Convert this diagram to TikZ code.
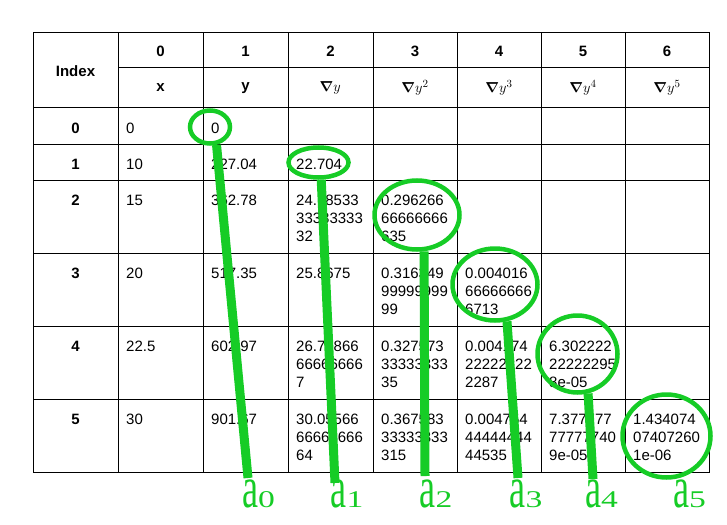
\documentclass[tikz,border=0pt]{standalone}
\usepackage{fontspec}
\setmainfont{Liberation Sans}
\newfontfamily\labfont{Liberation Serif}
\usepackage{graphicx}
\usetikzlibrary{shapes.geometric}
\definecolor{ringgreen}{RGB}{22,204,38}
\newcommand\alab[1]{\scalebox{0.95}[1.55]{\fontsize{38}{38}\selectfont a}\scalebox{1.4}[1]{\fontsize{24}{24}\selectfont #1}}
\newcommand\grad[1]{{\boldmath$\nabla$}$y^{#1}$}

\begin{document}
\begin{tikzpicture}[x=1pt, y=-1pt,
	grid/.style={line width=1pt},
	head/.style={font=\fontsize{15}{18}\selectfont\bfseries, inner sep=0},
	cell/.style={font=\fontsize{15}{18.3}\selectfont, align=left, anchor=north west, inner sep=0},
	ring/.style={draw=ringgreen, line width=4.5pt, ellipse, inner sep=0},
	stick/.style={draw=ringgreen, line width=9pt},
	alabel/.style={text=ringgreen, anchor=base west, inner sep=0, font=\labfont}]
	\useasboundingbox (0,0) rectangle (727,524);
	
	\draw[grid] (33,33) rectangle (709,472);
	\draw[grid] (118,68) -- (709,68);
	\foreach \y in {108,144,180,253,326,399} \draw[grid] (33,\y) -- (709,\y);
	\foreach \x in {118,203,288,373,457,541,625} \draw[grid] (\x,33) -- (\x,472);
	
	\node[head] (index) at (75.5,71) {Index};
	\foreach \n/\x in {0/160.5,1/245.5,2/330.5,3/415,4/499,5/583,6/667}
		\node[head] (h\n) at (\x,51) {\n};
	\node[head] (hx) at (160.5,88) {x};
	\node[head] (hy) at (245.5,88) {y};
	\node[head] (hd1) at (330.5,88) {\grad{}};
	\node[head] (hd2) at (415,88) {\grad{2}};
	\node[head] (hd3) at (499,88) {\grad{3}};
	\node[head] (hd4) at (583,88) {\grad{4}};
	\node[head] (hd5) at (667,88) {\grad{5}};
	\foreach \n/\y in {0/133,1/169,2/205,3/278,4/351,5/424}
		\node[head, anchor=base] (i\n) at (75.5,\y) {\n};
	
	\node[cell] (x0) at (126,122.5) {0};
	\node[cell] (y0) at (211,122.5) {0};
	\node[cell] (x1) at (126,158.5) {10};
	\node[cell] (y1) at (211,158.5) {227.04};
	\node[cell] (d1r1) at (296,158.5) {22.704};
	\node[cell] (x2) at (126,194.5) {15};
	\node[cell] (y2) at (211,194.5) {362.78};
	\node[cell] (d1r2) at (296,194.5) {24.18533\\33333333\\32};
	\node[cell] (d2r2) at (381,194.5) {0.296266\\66666666\\635};
	\node[cell] (x3) at (126,267.5) {20};
	\node[cell] (y3) at (211,267.5) {517.35};
	\node[cell] (d1r3) at (296,267.5) {25.8675};
	\node[cell] (d2r3) at (381,267.5) {0.316349\\99999999\\99};
	\node[cell] (d3r3) at (465,267.5) {0.004016\\66666666\\6713};
	\node[cell] (x4) at (126,340.5) {22.5};
	\node[cell] (y4) at (211,340.5) {602.97};
	\node[cell] (d1r4) at (296,340.5) {26.79866\\66666666\\7};
	\node[cell] (d2r4) at (381,340.5) {0.327573\\33333333\\35};
	\node[cell] (d3r4) at (465,340.5) {0.004174\\22222222\\2287};
	\node[cell] (d4r4) at (549,340.5) {6.302222\\22222295\\8e-05};
	\node[cell] (x5) at (126,413.5) {30};
	\node[cell] (y5) at (211,413.5) {901.67};
	\node[cell] (d1r5) at (296,413.5) {30.05566\\66666666\\64};
	\node[cell] (d2r5) at (381,413.5) {0.367583\\33333333\\315};
	\node[cell] (d3r5) at (465,413.5) {0.004754\\44444444\\44535};
	\node[cell] (d4r5) at (549,413.5) {7.377777\\77777740\\9e-05};
	\node[cell] (d5r5) at (633,413.5) {1.434074\\07407260\\1e-06};
	
	\node[ring, minimum width=40, minimum height=33] (ring0) at (210,127) {};
	\node[ring, minimum width=60, minimum height=30] (ring1) at (318.5,162.5) {};
	\node[ring, minimum width=85, minimum height=69] (ring2) at (417,215) {};
	\node[ring, minimum width=85, minimum height=72] (ring3) at (495,284.5) {};
	\node[ring, minimum width=80, minimum height=77] (ring4) at (577.5,354) {};
	\node[ring, minimum width=88, minimum height=83] (ring5) at (666.5,436) {};
	
	\node[alabel] (a0) at (242,507.5) {\alab{0}};
	\node[alabel] (a1) at (330.5,507.5) {\alab{1}};
	\node[alabel] (a2) at (419.5,507.5) {\alab{2}};
	\node[alabel] (a3) at (509.5,507.5) {\alab{3}};
	\node[alabel] (a4) at (585,507.5) {\alab{4}};
	\node[alabel] (a5) at (673,507.5) {\alab{5}};
	
	\coordinate (end0) at (248,478);
	\coordinate (end1) at (335,483);
	\coordinate (end2) at (425,476);
	\coordinate (end3) at (518,478);
	\coordinate (end4) at (593,479);
	\draw[stick] (ring0.-70) -- (end0);
	\draw[stick] (ring1.-81) -- (end1);
	\draw[stick] (ring2.-79) -- (end2);
	\draw[stick] (ring3.-72) -- (end3);
	\draw[stick] (ring4.-75) -- (end4);
\end{tikzpicture}
\end{document}
